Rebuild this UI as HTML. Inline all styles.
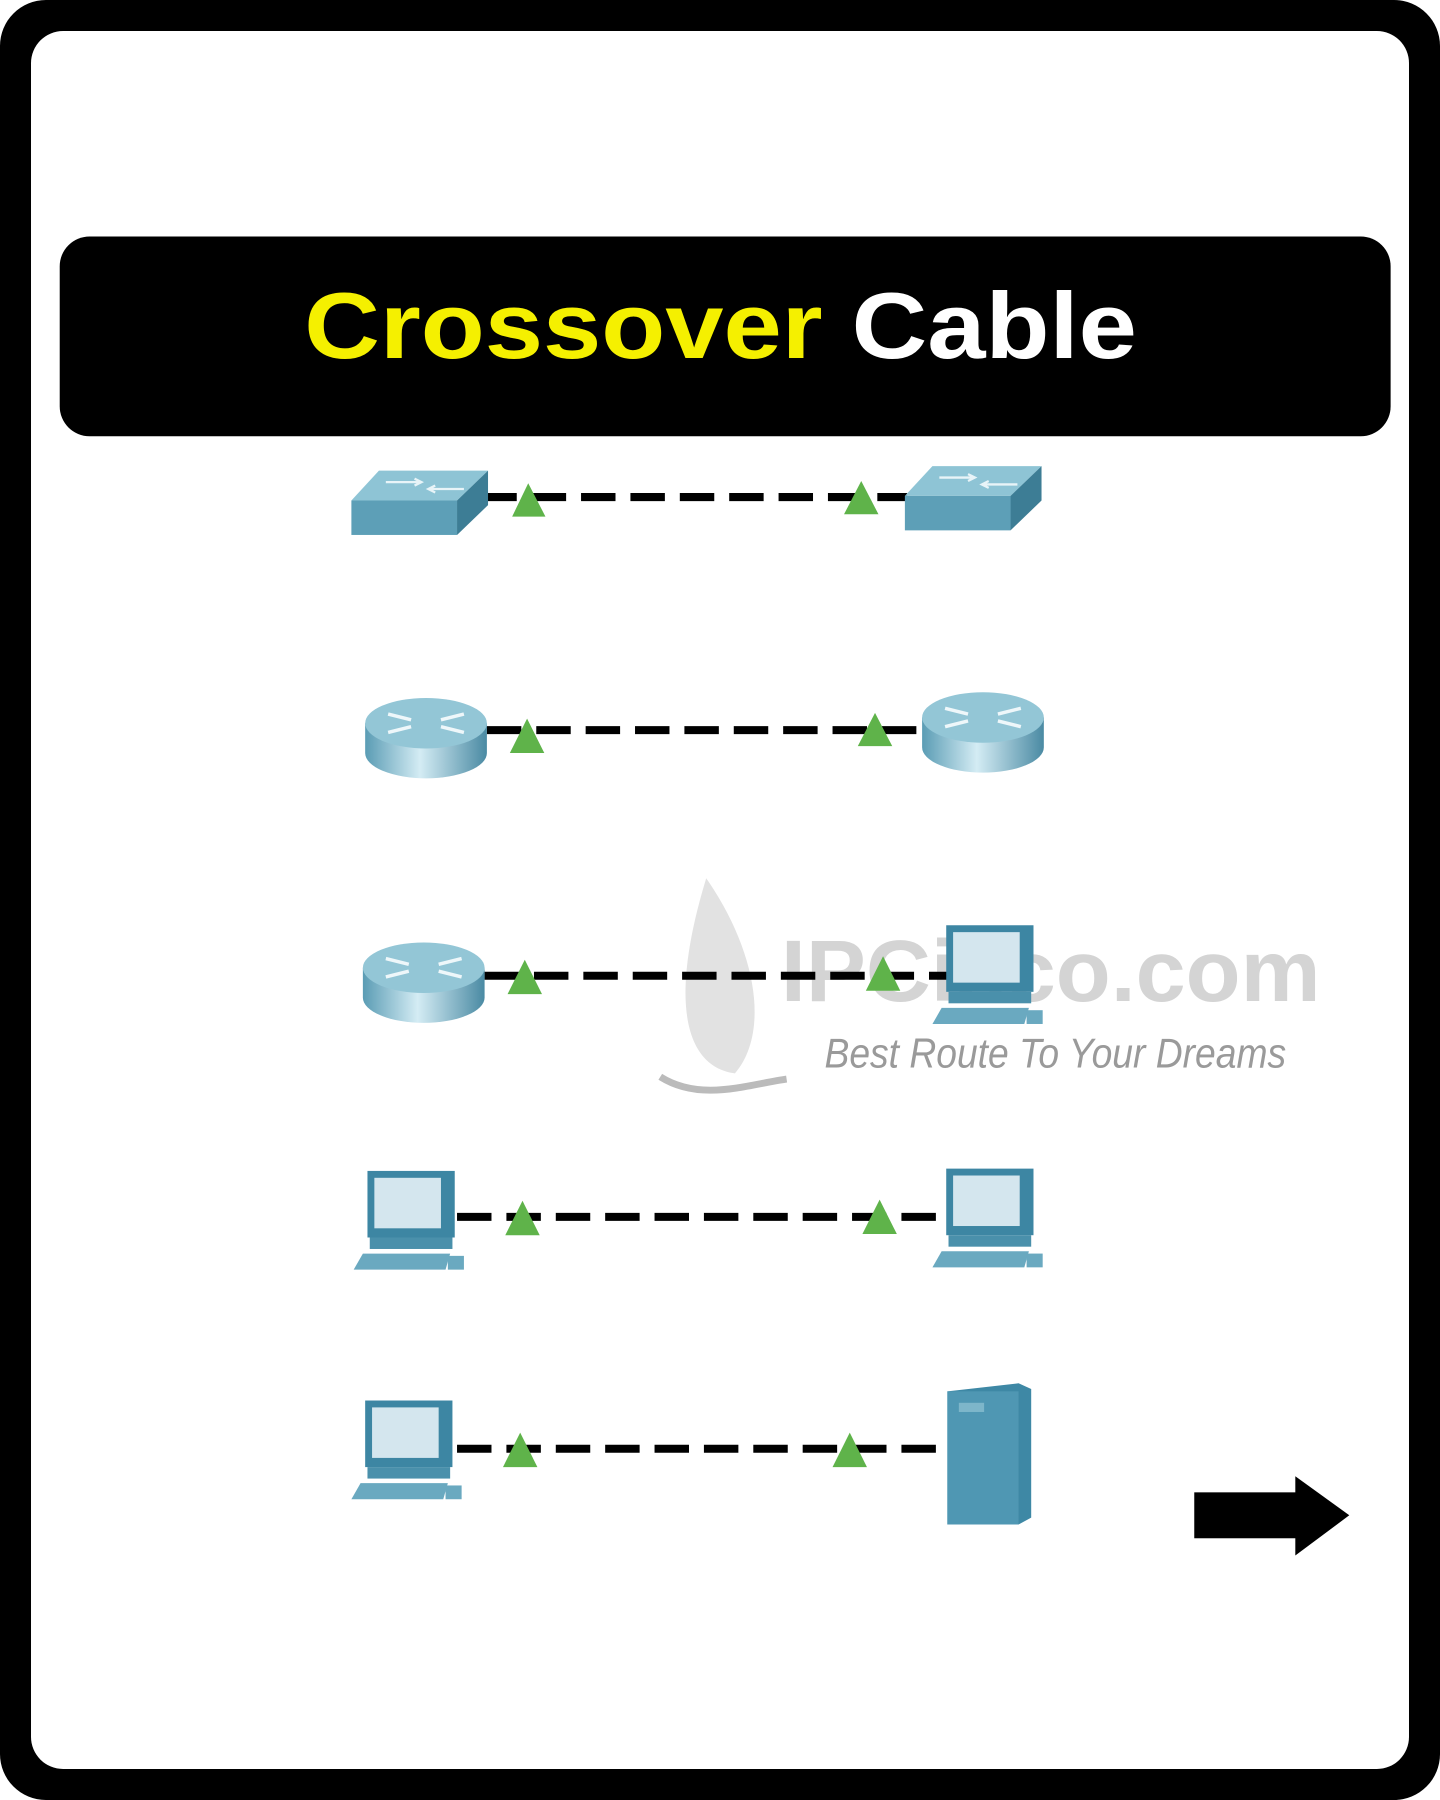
<!DOCTYPE html>
<html><head><meta charset="utf-8"><style>
html,body{margin:0;padding:0;background:#fff;}
svg{display:block;}
</style></head><body>
<svg width="1440" height="1800" viewBox="0 0 1254 1568" preserveAspectRatio="none" xmlns="http://www.w3.org/2000/svg">
<defs>
<g id="sw">
<polygon points="0,26 24,0 119,0 92,26" fill="#8ec4d5"/>
<polygon points="92,26 119,0 119,30 92,56" fill="#3d7d95"/>
<rect x="0" y="26" width="92" height="30" fill="#5d9fb7"/>
<path d="M30,10 h30 M55,7 l6,3 -6,3 M68,16 h30 M73,13 l-6,3 6,3" stroke="#e8f4f8" stroke-width="2" fill="none"/>
</g>
<linearGradient id="rg" x1="0" x2="1"><stop offset="0" stop-color="#5a9cb4"/><stop offset="0.45" stop-color="#d4ecf4"/><stop offset="1" stop-color="#4a8aa3"/></linearGradient>
<g id="rt">
<path d="M0,0 v26 a53,22 0 0 0 106,0 v-26z" fill="url(#rg)"/>
<ellipse cx="53" cy="0" rx="53" ry="22" fill="#93c6d6"/>
<path d="M20,-8 l20,5 M66,-3 l20,-5 M20,8 l20,-5 M66,3 l20,5" stroke="#eef7fa" stroke-width="3"/>
</g>
<g id="pc">
<rect x="12" y="0" width="76" height="58" fill="#3d86a3"/>
<rect x="18" y="6" width="58" height="44" fill="#d4e6ee"/>
<rect x="14" y="58" width="72" height="10" fill="#4a90ab"/>
<polygon points="0,86 8,72 84,72 80,86" fill="#6aa9c0"/>
<rect x="82" y="74" width="14" height="12" fill="#6aa9c0"/>
</g>
</defs>
<rect x="0" y="0" width="1254" height="1568" rx="40" fill="#000"/>
<rect x="27" y="27" width="1200" height="1514" rx="28" fill="#fff"/>
<rect x="52" y="206" width="1159" height="174" rx="26" fill="#000"/>
<text x="265" y="312" textLength="725" lengthAdjust="spacingAndGlyphs" font-family="Liberation Sans, sans-serif" font-weight="bold" font-size="82"><tspan fill="#f5f000">Crossover</tspan><tspan fill="#fff"> Cable</tspan></text>

<!-- watermark -->
<path d="M615,765 C660,830 670,900 640,935 C600,930 580,880 615,765z" fill="#e2e2e2"/>
<path d="M575,938 C610,960 650,945 685,940" stroke="#bbb" stroke-width="6" fill="none"/>
<text x="680" y="872" textLength="470" lengthAdjust="spacingAndGlyphs" font-family="Liberation Sans, sans-serif" font-weight="bold" font-size="76" fill="#d4d4d4">IPCisco.com</text>
<text x="718" y="930" textLength="402" lengthAdjust="spacingAndGlyphs" font-family="Liberation Sans, sans-serif" font-style="italic" font-size="36" fill="#9a9a9a">Best Route To Your Dreams</text>

<g stroke="#000" stroke-width="7" stroke-dasharray="30,13">
<line x1="420" y1="433" x2="790" y2="433"/>
<line x1="424" y1="636" x2="800" y2="636"/>
<line x1="422" y1="850" x2="830" y2="850"/>
<line x1="398" y1="1060" x2="825" y2="1060"/>
<line x1="398" y1="1262" x2="825" y2="1262"/>
</g>
<g fill="#5fb34a">
<polygon points="446,450 460,421 475,450"/><polygon points="735,448 750,419 765,448"/>
<polygon points="444,656 459,626 474,656"/><polygon points="747,650 762,621 777,650"/>
<polygon points="442,866 457,836 472,866"/><polygon points="754,863 769,833 784,863"/>
<polygon points="440,1076 455,1046 470,1076"/><polygon points="751,1075 766,1045 781,1075"/>
<polygon points="438,1278 453,1248 468,1278"/><polygon points="725,1278 740,1248 755,1278"/>
</g>
<use href="#sw" x="306" y="410"/>
<use href="#sw" x="788" y="406"/>
<use href="#rt" x="318" y="630"/>
<use href="#rt" x="803" y="625"/>
<use href="#rt" x="316" y="843"/>
<use href="#pc" x="812" y="806"/>
<use href="#pc" x="308" y="1020"/>
<use href="#pc" x="812" y="1018"/>
<use href="#pc" x="306" y="1220"/>
<polygon points="825,1212 887,1205 898,1210 898,1322 887,1328 825,1328" fill="#3e88a5"/>
<rect x="825" y="1212" width="62" height="116" fill="#4f97b3"/>
<rect x="835" y="1222" width="22" height="8" fill="#7db6ca"/>
<rect x="1040" y="1300" width="90" height="40" fill="#000"/>
<polygon points="1128,1286 1175,1320 1128,1355" fill="#000"/>
</svg>
</body></html>
